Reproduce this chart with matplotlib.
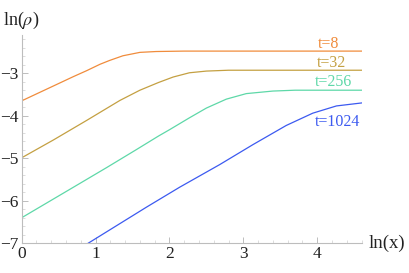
import numpy as np
import matplotlib
matplotlib.use("Agg")
import matplotlib.pyplot as plt
from matplotlib.ticker import MultipleLocator

# curves: ln(x) -> ln(rho)
x_t8 = [0.0, 0.43, 0.70, 0.88, 1.06, 1.19, 1.37, 1.60, 1.82, 2.20, 4.60]
y_t8 = [-3.65, -3.30, -3.08, -2.94, -2.79, -2.70, -2.59, -2.51, -2.49, -2.48, -2.48]

x_t32 = [0.0, 0.43, 0.88, 1.10, 1.33, 1.60, 1.85, 2.05, 2.27, 2.50, 2.80, 4.60]
y_t32 = [-4.99, -4.57, -4.11, -3.88, -3.64, -3.40, -3.22, -3.09, -2.99, -2.95, -2.93, -2.93]

x_t256 = [0.0, 0.79, 1.15, 1.55, 1.85, 2.00, 2.27, 2.50, 2.77, 3.04, 3.40, 3.70, 4.60]
y_t256 = [-6.40, -5.59, -5.22, -4.80, -4.48, -4.33, -4.05, -3.82, -3.61, -3.48, -3.42, -3.40, -3.40]

x_t1024 = [0.90, 1.69, 2.14, 2.68, 3.13, 3.58, 3.94, 4.26, 4.60]
y_t1024 = [-7.0, -6.15, -5.68, -5.15, -4.68, -4.23, -3.94, -3.77, -3.70]

labels = ["t=8", "t=32", "t=256", "t=1024"]
label_pos = [(4.15, -2.32), (4.19, -2.75), (4.22, -3.20), (4.27, -4.15)]
colors = ["#F08C3C", "#C4A042", "#5ED8A8", "#3C5AF0"]

plt.rcParams["font.family"] = ["Liberation Serif", "DejaVu Serif"]
plt.rcParams["mathtext.fontset"] = "stix"

fig = plt.figure(figsize=(4.09, 2.73), dpi=100)
ax = fig.add_axes([0.053, 0.109, 0.831, 0.763])

series = [(x_t8, y_t8), (x_t32, y_t32), (x_t256, y_t256), (x_t1024, y_t1024)]
for (xs, ys), c in zip(series, colors):
    ax.plot(xs, ys, color=c, lw=0.9, solid_joinstyle="round")

for lab, (lx, ly), c in zip(labels, label_pos, colors):
    ax.text(lx, ly, lab, color=c, fontsize=11.5, ha="center", va="center")

ax.set_xlim(0, 4.6)
ax.set_ylim(-7, -2.1)
ax.set_xticks([0, 1, 2, 3, 4])
ax.set_yticks([-7, -6, -5, -4, -3])
ax.set_yticklabels(["\u22127", "\u22126", "\u22125", "\u22124", "\u22123"])
ax.xaxis.set_minor_locator(MultipleLocator(0.2))
ax.yaxis.set_minor_locator(MultipleLocator(0.2))

for side in ["top", "right"]:
    ax.spines[side].set_visible(False)
for side in ["left", "bottom"]:
    ax.spines[side].set_color("#bdbdbd")
    ax.spines[side].set_linewidth(0.8)

ax.tick_params(which="major", direction="in", length=4, width=0.7, color="#bdbdbd",
               labelsize=12.5, labelcolor="#222222", pad=2)
ax.tick_params(which="minor", direction="in", length=2, width=0.5, color="#cfcfcf")

fig.text(3 / 409, 1 - 31 / 273, r"ln($\rho$)", fontsize=13,
         ha="left", va="bottom", color="#222222")
ax.text(1.02, 0.0, "ln(x)", transform=ax.transAxes, fontsize=13.5,
        ha="left", va="center", color="#222222")

fig.savefig("out.png", dpi=100)
